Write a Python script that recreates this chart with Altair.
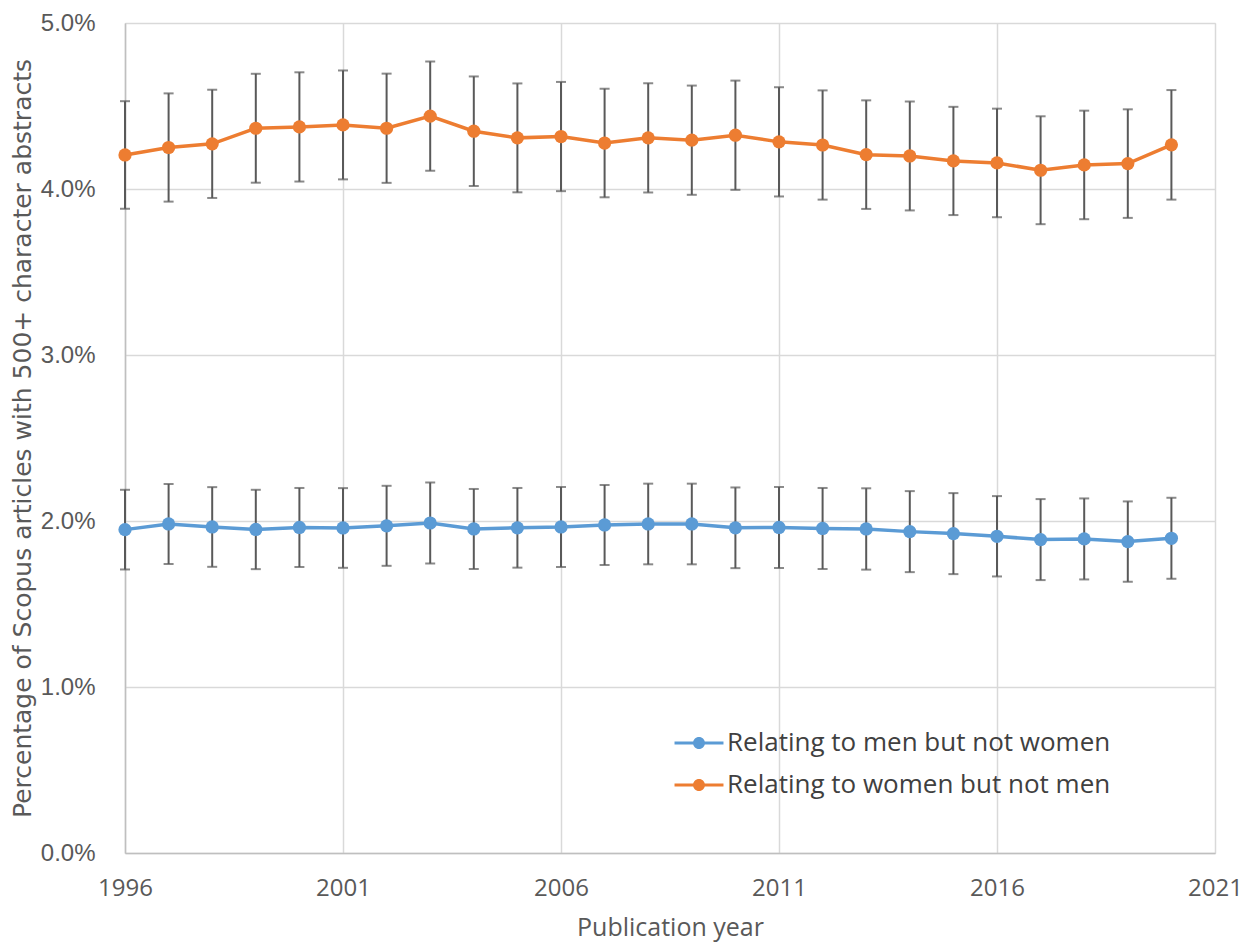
import altair as alt
import pandas as pd

years = list(range(1996, 2021))
men = [1.948, 1.982, 1.964, 1.949, 1.961, 1.958, 1.971, 1.988, 1.952, 1.959,
       1.964, 1.976, 1.982, 1.982, 1.959, 1.961, 1.955, 1.952, 1.936, 1.924,
       1.908, 1.888, 1.892, 1.876, 1.896]
men_err = [0.240, 0.241, 0.240, 0.239, 0.238, 0.240, 0.241, 0.244, 0.241, 0.240,
           0.241, 0.241, 0.243, 0.243, 0.243, 0.244, 0.244, 0.245, 0.244, 0.244,
           0.242, 0.244, 0.244, 0.242, 0.244]
women = [4.205, 4.250, 4.272, 4.366, 4.374, 4.386, 4.366, 4.439, 4.348, 4.308,
         4.316, 4.277, 4.308, 4.294, 4.324, 4.284, 4.265, 4.207, 4.199, 4.169,
         4.157, 4.113, 4.145, 4.153, 4.266]
women_err = [0.324, 0.326, 0.326, 0.328, 0.329, 0.328, 0.329, 0.329, 0.330, 0.328,
             0.329, 0.327, 0.329, 0.329, 0.329, 0.329, 0.329, 0.327, 0.328, 0.326,
             0.327, 0.325, 0.327, 0.327, 0.330]
series_names = ["Relating to men but not women", "Relating to women but not men"]
colors = ["#5B9BD5", "#ED7D31"]
x_ticks = [1996, 2001, 2006, 2011, 2016, 2021]
y_ticks = [0.0, 0.01, 0.02, 0.03, 0.04, 0.05]

rows = []
for name, vals, errs in [(series_names[0], men, men_err), (series_names[1], women, women_err)]:
    for yr, v, e in zip(years, vals, errs):
        rows.append(dict(year=yr, series=name, value=v / 100, lo=(v - e) / 100, hi=(v + e) / 100))
df = pd.DataFrame(rows)

TEXT = "#595959"
GRID = "#D9D9D9"
FONT = "Open Sans, sans-serif"

x_enc = alt.X("year:Q",
              scale=alt.Scale(domain=[1996, 2021], nice=False, zero=False),
              axis=alt.Axis(values=x_ticks, format="d", title="Publication year",
                            labelFont=FONT, labelFontSize=24, labelColor=TEXT,
                            labelPadding=23, labelFlush=False, labelOverlap=False,
                            titleFont=FONT, titleFontSize=25,
                            titleColor=TEXT, titleFontWeight="normal", titlePadding=15,
                            ticks=False, domainColor="#BFBFBF", domainWidth=1.5,
                            gridColor=GRID, gridWidth=1.5))
y_scale = alt.Scale(domain=[0, 0.05], nice=False, zero=True)
y_axis = alt.Axis(values=y_ticks, format=".1%", title="Percentage of Scopus articles with 500+ character abstracts",
                  labelFont="Liberation Sans, sans-serif", labelFontSize=24, labelColor=TEXT,
                  labelPadding=30, labelFlush=False, labelOverlap=False,
                  titleFont="DejaVu Sans, sans-serif", titleFontSize=25, titleColor=TEXT,
                  titleFontWeight="normal", titlePadding=5,
                  ticks=False, domainColor="#BFBFBF", domainWidth=1.5,
                  gridColor=GRID, gridWidth=1.5)

color_scale = alt.Scale(domain=series_names, range=colors)
legend_path = ("M-4.08,-0.25 L4.08,-0.25 L4.08,0.25 L-4.08,0.25 Z "
               "M-1,0 A1,1 0 1,1 1,0 A1,1 0 1,1 -1,0 Z")
legend = alt.Legend(title=None, orient="none", legendX=561, legendY=707,
                    symbolType=legend_path, symbolSize=144, symbolStrokeWidth=0,
                    symbolOpacity=1, labelFont=FONT, labelFontSize=26,
                    labelColor="#404040", labelOffset=15, rowPadding=16, labelLimit=600)

base = alt.Chart(df)

err_rule = base.mark_rule(strokeWidth=2, color="#595959").encode(
    x=x_enc,
    y=alt.Y("lo:Q", scale=y_scale, axis=y_axis),
    y2="hi:Q",
)
cap_lo = base.mark_tick(orient="horizontal", size=10, thickness=2, color="#595959").encode(
    x=x_enc,
    y=alt.Y("lo:Q", scale=y_scale, axis=y_axis),
)
cap_hi = base.mark_tick(orient="horizontal", size=10, thickness=2, color="#595959").encode(
    x=x_enc,
    y=alt.Y("hi:Q", scale=y_scale, axis=y_axis),
)

line = base.mark_line(strokeWidth=3.5).encode(
    x=x_enc,
    y=alt.Y("value:Q", scale=y_scale, axis=y_axis),
    color=alt.Color("series:N", scale=color_scale, legend=legend),
)

pts = base.mark_point(filled=True, size=175, opacity=1).encode(
    x=x_enc,
    y=alt.Y("value:Q", scale=y_scale, axis=y_axis),
    color=alt.Color("series:N", scale=color_scale, legend=legend),
)

chart = alt.layer(err_rule, cap_lo, cap_hi, line, pts).properties(
    width=1090, height=830,
    padding={"left": 117, "top": 15, "right": 30, "bottom": 89},
    autosize=alt.AutoSizeParams(type="none"),
).configure_view(stroke=None).configure(background="white")

chart.save("out.html", embed_options={"renderer": "svg", "actions": False})
